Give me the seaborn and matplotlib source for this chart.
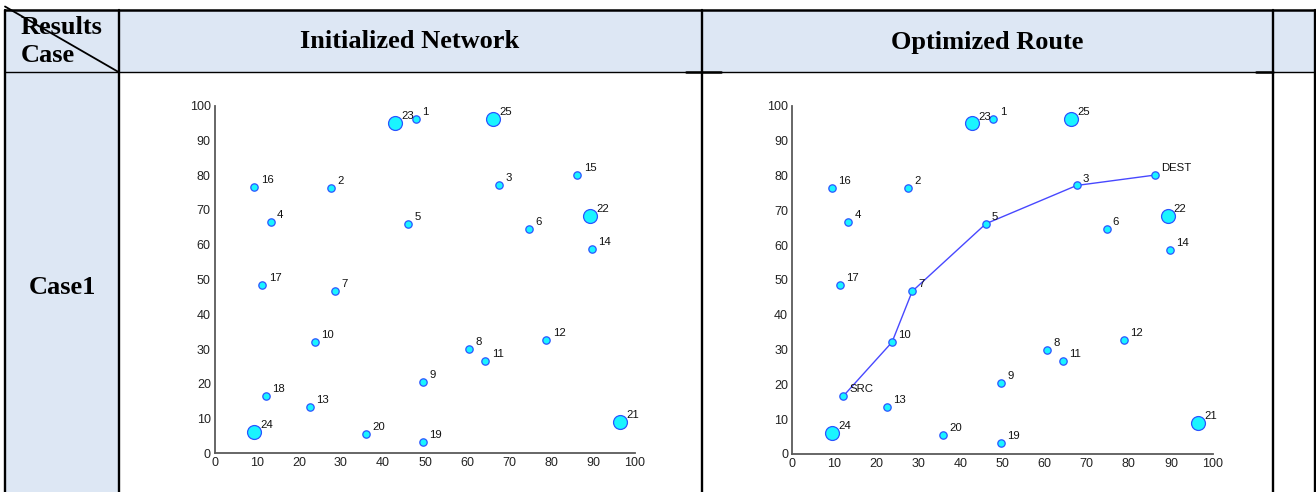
import matplotlib
matplotlib.use("Agg")
import matplotlib.pyplot as plt
import seaborn as sns
import pandas as pd
from matplotlib.patches import Rectangle

# ---- data ----
node_ids = list(range(1, 26))
node_x = [47.8, 27.6, 67.6, 13.3, 46.0, 74.7, 28.5, 60.5, 49.6, 23.7, 64.4, 78.9, 22.5,
          89.7, 86.3, 9.4, 11.3, 12.1, 49.6, 35.9, 96.5, 89.2, 42.8, 9.4, 66.3]
node_y = [96.2, 76.3, 77.1, 66.6, 66.1, 64.5, 46.7, 30.0, 20.4, 32.1, 26.6, 32.7, 13.4,
          58.7, 80.1, 76.5, 48.5, 16.6, 3.2, 5.5, 9.0, 68.4, 94.9, 6.0, 96.2]
big_nodes = [21, 22, 23, 24, 25]
route = [18, 10, 7, 5, 3, 15]
route_names = {18: "SRC", 15: "DEST"}
col_titles = ["Initialized Network", "Optimized Route"]
row_title = "Case1"
corner_top = "Results"
corner_bottom = "Case"
ticks = [0, 10, 20, 30, 40, 50, 60, 70, 80, 90, 100]

df = pd.DataFrame({"id": node_ids, "x": node_x, "y": node_y})
df["big"] = df["id"].isin(big_nodes)
route_df = df.set_index("id").loc[route].reset_index()

sns.set_theme(style="white")
plt.rcParams["font.family"] = ["Liberation Sans", "DejaVu Sans"]
plt.rcParams["text.color"] = "black"

W, H = 1316, 492
fig = plt.figure(figsize=(W / 100, H / 100), dpi=100)

# ---- table background ----
bg = fig.add_axes([0, 0, 1, 1], zorder=-5)
bg.set_xlim(0, W)
bg.set_ylim(H, 0)
bg.axis("off")
hdr = "#DDE7F4"
bg.add_patch(Rectangle((5, 10), 1310, 62, color=hdr, lw=0))
bg.add_patch(Rectangle((5, 72), 113.5, 430, color=hdr, lw=0))
k = "black"
bg.plot([5, 1315], [10, 10], color=k, lw=1.8)
bg.plot([5, 1315], [72, 72], color=k, lw=1.0)
for xv in [5, 118.5, 702, 1273, 1315]:
    bg.plot([xv, xv], [10, 492], color=k, lw=1.7)
bg.plot([686, 721], [72.3, 72.3], color=k, lw=1.8)
bg.plot([1256, 1273], [72.3, 72.3], color=k, lw=1.8)
bg.plot([5, 118.5], [6.5, 72], color=k, lw=1.3)
serif = ["Liberation Serif", "DejaVu Serif"]
tf = dict(family=serif, fontweight="bold", fontsize=19, color="black")
bg.text(21, 27, corner_top, ha="left", va="center", **tf)
bg.text(21, 56, corner_bottom, ha="left", va="center", **tf)
bg.text(410, 42, col_titles[0], ha="center", va="center", **tf)
bg.text(987, 42, col_titles[1], ha="center", va="center", **tf)
bg.text(62, 287, row_title, ha="center", va="center", **tf)

face = "#1AF4FF"
edge = "#2A55FF"
spine_c = "#5a5a5a"


def draw_network(ax, show_route):
    if show_route:
        sns.lineplot(data=route_df, x="x", y="y", sort=False, ax=ax, color="#4848FF",
                     lw=1.0, zorder=2, estimator=None)
    sns.scatterplot(data=df[~df["big"]], x="x", y="y", ax=ax, s=28, color=face,
                    edgecolor=edge, linewidth=0.9, zorder=3, clip_on=False)
    sns.scatterplot(data=df[df["big"]], x="x", y="y", ax=ax, s=100, color=face,
                    edgecolor=edge, linewidth=0.9, zorder=3, clip_on=False)
    for i, x, y in zip(node_ids, node_x, node_y):
        lab = route_names.get(i, str(i)) if show_route else str(i)
        ax.annotate(lab, (x, y), xytext=(4.5, 5), textcoords="offset points",
                    fontsize=8.2, ha="left", va="center", color="#111111", zorder=4)
    ax.set_xlim(0, 100)
    ax.set_ylim(0, 100)
    ax.set_xticks(ticks)
    ax.set_yticks(ticks)
    ax.set_xlabel("")
    ax.set_ylabel("")
    for s in ["top", "right"]:
        ax.spines[s].set_visible(False)
    for s in ["left", "bottom"]:
        ax.spines[s].set_color(spine_c)
        ax.spines[s].set_linewidth(1.3)
    ax.tick_params(direction="in", length=3.5, width=1.0, color=spine_c,
                   labelsize=9, labelcolor="#222222", pad=3)
    ax.set_facecolor("none")


ax1 = fig.add_axes([215 / W, 1 - 453.3 / H, 420 / W, (453.3 - 105.7) / H])
draw_network(ax1, False)
ax2 = fig.add_axes([792.3 / W, 1 - 454 / H, 420.7 / W, (454 - 105.7) / H])
draw_network(ax2, True)

fig.savefig("out.png", dpi=100)
